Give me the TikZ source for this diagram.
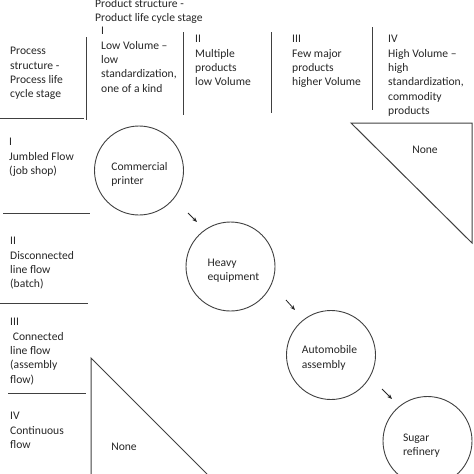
\documentclass[tikz,border=0pt]{standalone}
\usepackage{fontspec}
\setmainfont{Carlito}
\usetikzlibrary{arrows.meta}
\begin{document}
\begin{tikzpicture}[x=1pt,y=-1pt,
  txt/.style={anchor=north west,align=left,inner sep=0pt,font=\fontsize{11.6}{14.4}\selectfont,text=black!85,execute at begin node=\strut},
  lbl/.style={align=left,inner sep=0pt,font=\fontsize{11.6}{14.4}\selectfont,text=black!85},
  ln/.style={draw=black!75,line width=1pt},
  stage/.style={circle,draw=black!75,line width=0.9pt,minimum size=89pt,inner sep=0pt},
  arr/.style={draw=black!85,line width=0.8pt,-{Stealth[length=5pt,width=4pt]}}]
\useasboundingbox (0,0) rectangle (474,474);
% header texts
\node[txt] (hdr) at (95,-1) {Product structure -\\Product life cycle stage};
\node[txt] (c1) at (101,27) {I\\Low Volume --\\low\\standardization,\\one of a kind};
\node[txt] (c2) at (195,35) {II\\Multiple\\products\\low Volume};
\node[txt] (c3) at (292,35) {III\\Few major\\products\\higher Volume};
\node[txt] (c4) at (388,35) {IV\\High Volume --\\high\\standardization,\\commodity\\products};
\node[txt] (ps) at (10,47) {Process\\structure -\\Process life\\cycle stage};
\node[txt] (r1) at (9,138) {I\\Jumbled Flow\\(job shop)};
\node[txt] (r2) at (10,237) {II\\Disconnected\\line flow\\(batch)};
\node[txt] (r3) at (10,318) {III\\\ Connected\\line flow\\(assembly\\flow)};
\node[txt] (r4) at (10,412) {IV\\Continuous\\flow};
% separator lines
\draw[ln] (86,37) -- (86,120);
\draw[ln] (183,32) -- (183,115);
\draw[ln] (271,32) -- (271,113);
\draw[ln] (372,27) -- (372,110);
\draw[ln] (0,118) -- (84,118);
\draw[ln] (3,213) -- (90,213);
\draw[ln] (0,303) -- (88,303);
\draw[ln] (8,393) -- (86,393);
% triangles
\draw[ln,line join=miter] (351,123) -- (472,123) -- (472,243) -- cycle;
\node[lbl] (n1) at (425,150) {None};
\draw[ln] (91,474) -- (91,358) -- (207,474);
\node[lbl] (n2) at (124,447) {None};
% stages
\node[stage,label={[lbl,xshift=0.5pt,yshift=-4pt]center:{Commercial\\printer}}] (cp) at (139,170.5) {};
\node[stage,label={[lbl,xshift=3pt,yshift=-4.5pt]center:{Heavy\\equipment}}] (he) at (230.5,266.5) {};
\node[stage,label={[lbl,xshift=-1.5pt,yshift=-3pt]center:{Automobile\\assembly}}] (aa) at (331,355) {};
\node[stage,label={[lbl,xshift=-6pt,yshift=-4.5pt]center:{Sugar\\refinery}}] (sr) at (427.5,441) {};
% arrows
\coordinate (a1s) at (188,213); \coordinate (a1e) at (197,222);
\coordinate (a2s) at (286,300); \coordinate (a2e) at (295,310);
\coordinate (a3s) at (382,389); \coordinate (a3e) at (392,399);
\draw[arr] (a1s) -- (a1e);
\draw[arr] (a2s) -- (a2e);
\draw[arr] (a3s) -- (a3e);
\end{tikzpicture}
\end{document}
